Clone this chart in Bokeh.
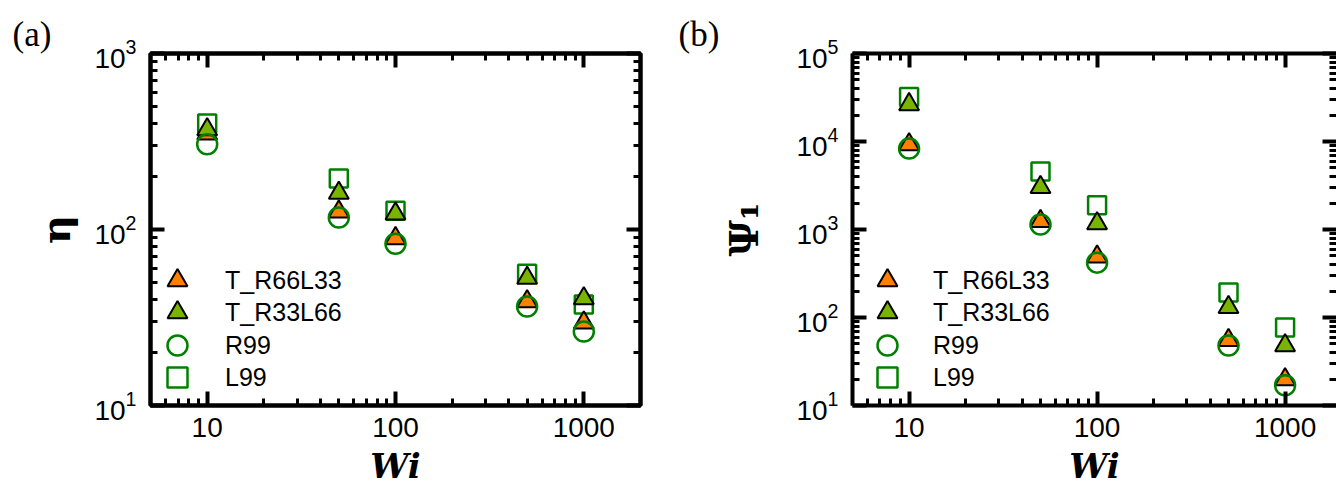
from bokeh.plotting import figure
from bokeh.models import (LogAxis, Legend, LegendItem, NumeralTickFormatter,
                          CustomJSTickFormatter, FixedTicker, LogTickFormatter)
from bokeh.layouts import row
from bokeh.embed import file_html
from bokeh.resources import INLINE

# ---- data ----
wi = [10, 50, 100, 500, 1000]
series_names = ["T_R66L33", "T_R33L66", "R99", "L99"]

eta_T_R66L33 = [350, 126, 89, 39, 29.5]
eta_T_R33L66 = [370, 161, 123, 53, 40.5]
eta_R99 = [305, 117, 83, 36.5, 26.3]
eta_L99 = [400, 195, 128, 56, 37.5]

psi_T_R66L33 = [9250, 1240, 490, 55, 19.7]
psi_T_R33L66 = [26400, 3020, 1170, 131, 48]
psi_R99 = [8300, 1140, 420, 48, 17]
psi_L99 = [32000, 4570, 1880, 192, 77]

x_major = [10, 100, 1000]
eta_major = [10, 100, 1000]
psi_major = [10, 100, 1000, 10000, 100000]

ORANGE = "#FF7F00"
LGREEN = "#79B400"
DGREEN = "#008000"


def minors(majors):
    out = []
    for m in majors:
        out += [k * m for k in range(2, 10)]
    out += [k * majors[0] / 10 for k in range(2, 10)]
    return out


def x_ticker():
    return FixedTicker(ticks=x_major, minor_ticks=minors(x_major))


def style_axis(ax, labels=True):
    ax.axis_line_width = 4
    ax.axis_line_color = "black"
    ax.major_tick_in = 14
    ax.major_tick_out = 0
    ax.minor_tick_in = 7
    ax.minor_tick_out = 0
    ax.major_tick_line_width = 4
    ax.minor_tick_line_width = 3
    ax.major_tick_line_color = "black"
    ax.minor_tick_line_color = "black"
    ax.major_label_text_font = "Liberation Sans"
    ax.major_label_text_font_size = "28px"
    ax.major_label_text_color = "black"
    if not labels:
        ax.formatter = CustomJSTickFormatter(code="return ''")
        ax.major_label_standoff = 0


def make_panel(ys, y_range, y_major, x_end, width, left, right, ylabel, tag, tag_off,
               legend_x, label_standoff, ylabel_standoff, outline=True):
    p = figure(width=width, height=499, x_axis_type="log", y_axis_type="log",
               x_range=(5, x_end), y_range=y_range,
               min_border_left=left, min_border_right=right,
               min_border_top=53, min_border_bottom=94,
               output_backend="svg", toolbar_location=None)
    p.grid.visible = False
    p.background_fill_color = "white"
    p.border_fill_color = "white"
    if outline:
        p.outline_line_color = "black"
        p.outline_line_width = 4
    else:
        p.outline_line_color = None

    p.title.text = tag
    p.title.align = "left"
    p.title.offset = tag_off
    p.title.standoff = 0
    p.title.text_font = "Liberation Serif"
    p.title.text_font_style = "normal"
    p.title.text_font_size = "35px"
    p.title.text_color = "black"

    xa = p.xaxis[0]
    style_axis(xa)
    xa.ticker = x_ticker()
    xa.formatter = NumeralTickFormatter(format="0")
    xa.major_label_standoff = 12
    xa.axis_label = "Wi"
    xa.axis_label_text_font = "DejaVu Serif"
    xa.axis_label_text_font_style = "bold italic"
    xa.axis_label_text_font_size = "34px"
    xa.axis_label_standoff = 6
    xa.axis_label_text_color = "black"

    ya = p.yaxis[0]
    style_axis(ya)
    ya.ticker = FixedTicker(ticks=y_major, minor_ticks=minors(y_major))
    ya.formatter = LogTickFormatter()
    ya.major_label_standoff = 14
    ya.axis_label = ylabel
    ya.axis_label_text_font = "DejaVu Serif"
    ya.axis_label_text_font_style = "bold"
    ya.axis_label_text_font_size = "40px"
    ya.axis_label_standoff = ylabel_standoff
    ya.axis_label_text_color = "black"

    top = LogAxis(ticker=x_ticker())
    style_axis(top, labels=False)
    p.add_layout(top, "above")
    rt = LogAxis(ticker=FixedTicker(ticks=y_major, minor_ticks=minors(y_major)))
    style_axis(rt, labels=False)
    if not outline:
        rt.axis_line_color = None
    p.add_layout(rt, "right")

    r_L = p.scatter(wi, ys[3], marker="square", size=18, fill_color=None,
                    line_color=DGREEN, line_width=2.5)
    r_O = p.scatter(wi, ys[0], marker="triangle", size=20, fill_color=ORANGE,
                    line_color="black", line_width=2)
    r_G = p.scatter(wi, ys[1], marker="triangle", size=20, fill_color=LGREEN,
                    line_color="black", line_width=2)
    r_R = p.scatter(wi, ys[2], marker="circle", size=20, fill_color=None,
                    line_color=DGREEN, line_width=2.5)

    rends = [r_O, r_G, r_R, r_L]
    offsets = [100, 68, 35, 3]
    for name, r, off in zip(series_names, rends, offsets):
        lg = Legend(items=[LegendItem(label=name, renderers=[r])],
                    location=(legend_x, off), orientation="vertical",
                    glyph_width=50, glyph_height=50, label_height=50, spacing=0,
                    label_standoff=label_standoff, padding=0, margin=0,
                    background_fill_alpha=0, border_line_alpha=0,
                    label_text_font="Liberation Sans", label_text_font_size="25px",
                    label_text_color="black")
        p.add_layout(lg)
    return p


pa = make_panel([eta_T_R66L33, eta_T_R33L66, eta_R99, eta_L99], (10, 1000), eta_major,
                2000, 670, 150, 30, "η", "(a)", -138, 2, 23, 12, outline=True)
pb = make_panel([psi_T_R66L33, psi_T_R33L66, psi_R99, psi_L99], (10, 1e5), psi_major,
                1877, 666, 182, 0, "Ψ₁", "(b)", -174, 10, 21, 26, outline=False)

layout = row(pa, pb)
open("out.html", "w").write(file_html(layout, INLINE))
